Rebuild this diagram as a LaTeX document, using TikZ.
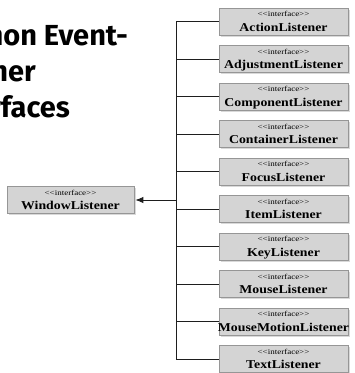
\documentclass[tikz,border=0pt]{standalone}
\usepackage{fontspec}
\setmainfont{Liberation Serif}
\newfontfamily\tagfont{Liberation Serif}[FakeStretch=1.2]
\newfontfamily\namefont{Liberation Serif Bold}[FakeStretch=1.15]
\newfontfamily\titlefont{Fira Sans}
\usetikzlibrary{arrows.meta,shadows}
\definecolor{boxfill}{RGB}{212,212,212}
\definecolor{boxline}{RGB}{150,150,150}
\definecolor{conn}{RGB}{30,30,30}
\tikzset{
  ibox/.style={draw=boxline, fill=boxfill, line width=0.8pt, minimum width=129pt, minimum height=27pt, inner sep=0pt,
    drop shadow={shadow xshift=1.5pt, shadow yshift=-1.8pt, opacity=0.25, fill=black!60}},
  wbox/.style={ibox, minimum width=127pt},
  itag/.style={font=\tagfont\fontsize{7.5}{8}\selectfont, inner sep=0pt, anchor=center},
  iname/.style={font=\namefont\fontsize{12}{13}\selectfont, inner sep=0pt, anchor=base},
  conline/.style={draw=conn, line width=0.9pt},
  ttl/.style={font=\titlefont\bfseries\fontsize{29}{30}\selectfont, inner sep=0pt, anchor=base east}
}
\begin{document}
\begin{tikzpicture}[x=1pt,y=-1pt]
\useasboundingbox (0,0) rectangle (355,373);
\clip (0,0) rectangle (355,373);
% title (cut off at left edge, as in the reference)
\node[ttl] (t1) at (128,45) {Common Event-};
\node[ttl] (t2) at (36,81) {Listener};
\node[ttl] (t3) at (70,117) {Interfaces};
% right boxes
\foreach \nm [count=\i from 0] in {ActionListener,AdjustmentListener,ComponentListener,ContainerListener,FocusListener,ItemListener,KeyListener,MouseListener,MouseMotionListener,TextListener}{
  \pgfmathsetmacro{\cy}{21.5+37.5*\i}
  \node[ibox] (\nm) at (283.5,\cy) {};
  \node[itag] (\nm-t) at (283.5,\cy-7.5) {<<interface>>};
  \node[iname] (\nm-n) at (283.5,\cy+9.5) {\nm};
}
% window listener
\node[wbox] (win) at (70.5,200) {};
\node[itag] (win-t) at (70.5,192.5) {<<interface>>};
\node[iname] (win-n) at (70.5,209.5) {WindowListener};
% connectors
\coordinate (top) at (176,21.5);
\coordinate (bot) at (176,359);
\coordinate (mid) at (176,200);
\draw[conline] (top) -- (bot);
\foreach \nm in {ActionListener,AdjustmentListener,ComponentListener,ContainerListener,FocusListener,ItemListener,KeyListener,MouseListener,MouseMotionListener,TextListener}{
  \draw[conline] (top |- \nm.west) -- (\nm.west);
}
\draw[conline, -{Latex[length=8pt,width=6.5pt]}] (mid) -- ([xshift=1pt]win.east);
\end{tikzpicture}
\end{document}
